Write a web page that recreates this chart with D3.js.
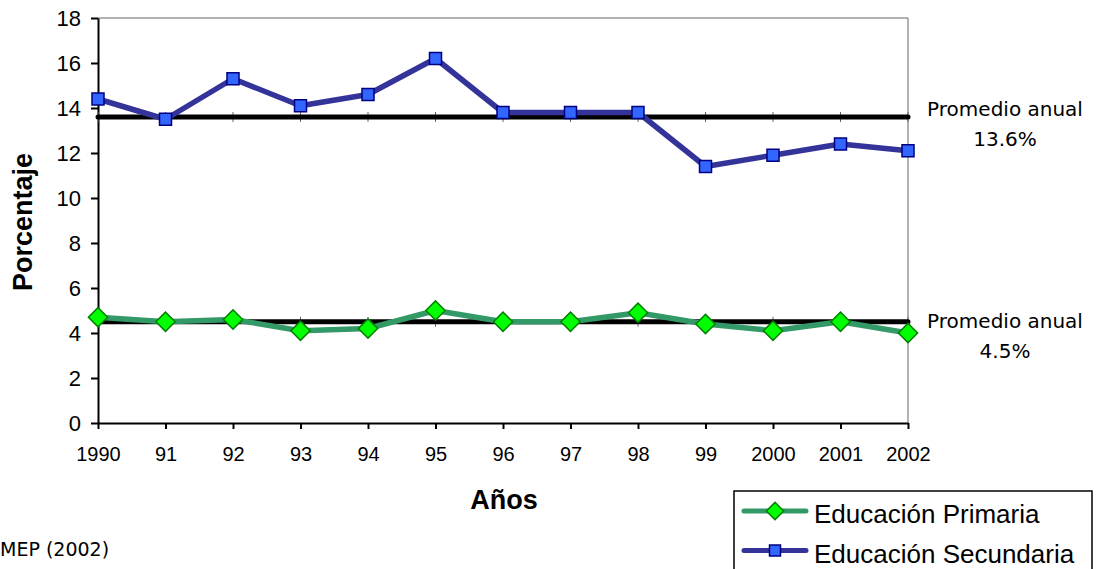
<!DOCTYPE html>
<html>
<head>
<meta charset="utf-8">
<script src="https://cdn.jsdelivr.net/npm/d3@7"></script>
<style>
  html, body { margin: 0; padding: 0; background: #fff; }
  svg { display: block; }
</style>
</head>
<body>
<svg id="chart" width="1100" height="569"></svg>
<script>
// Enrollment dropout rates by year
const years = ["1990", "91", "92", "93", "94", "95", "96", "97", "98", "99", "2000", "2001", "2002"];
const primaria = [4.7, 4.5, 4.6, 4.1, 4.2, 5.0, 4.5, 4.5, 4.9, 4.4, 4.1, 4.5, 4.0];
const secundaria = [14.4, 13.5, 15.3, 14.1, 14.6, 16.2, 13.8, 13.8, 13.8, 11.4, 11.9, 12.4, 12.1];
const promedios = [4.5, 13.6];
const yTicks = [0, 2, 4, 6, 8, 10, 12, 14, 16, 18];

const svg = d3.select("#chart");
const plotLeft = 98, plotRight = 908, plotTop = 18, plotBottom = 423;
const sansFont = "Liberation Sans, Arial, sans-serif";
const noteFont = "DejaVu Sans, Verdana, sans-serif";

const x = d3.scalePoint().domain(years).range([plotLeft, plotRight]);
const y = d3.scaleLinear().domain([0, 18]).range([plotBottom, plotTop]);

// Gray frame on top and right
svg.append("line").attr("x1", plotLeft).attr("x2", plotRight).attr("y1", plotTop).attr("y2", plotTop)
  .attr("stroke", "#999").attr("stroke-width", 1.5);
svg.append("line").attr("x1", plotRight).attr("x2", plotRight).attr("y1", plotTop).attr("y2", plotBottom)
  .attr("stroke", "#999").attr("stroke-width", 1.5);

// Axes
const yAxis = svg.append("g").attr("transform", `translate(${plotLeft},0)`)
  .call(d3.axisLeft(y).tickValues(yTicks).tickSize(7).tickPadding(10).tickSizeOuter(0));
yAxis.select(".domain").attr("stroke", "#000").attr("stroke-width", 2);
yAxis.selectAll(".tick line").attr("stroke", "#000").attr("stroke-width", 2);
yAxis.selectAll("text").attr("font-family", sansFont).attr("font-size", 22).attr("fill", "#000");

const xAxis = svg.append("g").attr("transform", `translate(0,${plotBottom})`)
  .call(d3.axisBottom(x).tickSize(6).tickPadding(18).tickSizeOuter(0));
xAxis.select(".domain").attr("stroke", "#000").attr("stroke-width", 2);
xAxis.selectAll(".tick line").attr("stroke", "#000").attr("stroke-width", 2);
xAxis.selectAll("text").attr("font-family", sansFont).attr("font-size", 20).attr("fill", "#000");

// Annual average reference lines, with small category marks across them
promedios.forEach(p => {
  svg.selectAll(null).data(years).enter().append("line")
    .attr("x1", d => x(d)).attr("x2", d => x(d))
    .attr("y1", y(p) - 5).attr("y2", y(p) + 5)
    .attr("stroke", "#666").attr("stroke-width", 1);
});
svg.selectAll("line.avg").data(promedios).enter().append("line")
  .attr("class", "avg")
  .attr("x1", plotLeft).attr("x2", plotRight)
  .attr("y1", d => y(d)).attr("y2", d => y(d))
  .attr("stroke", "#000").attr("stroke-width", 5).attr("stroke-linecap", "round");

// Series lines
const line = d3.line().x((d, i) => x(years[i])).y(d => y(d));
svg.append("path").datum(primaria).attr("d", line)
  .attr("fill", "none").attr("stroke", "#339966").attr("stroke-width", 5.5).attr("stroke-linejoin", "round");
svg.append("path").datum(secundaria).attr("d", line)
  .attr("fill", "none").attr("stroke", "#333399").attr("stroke-width", 5.5).attr("stroke-linejoin", "round");

// Markers
const diamond = d3.symbol().type(d3.symbolSquare).size(185);
svg.selectAll("path.dia").data(primaria).enter().append("path")
  .attr("class", "dia")
  .attr("d", diamond)
  .attr("transform", (d, i) => `translate(${x(years[i])},${y(d)}) rotate(45)`)
  .attr("fill", "#00ff00").attr("stroke", "#008000").attr("stroke-width", 1.5);
svg.selectAll("rect.sq").data(secundaria).enter().append("rect")
  .attr("class", "sq")
  .attr("x", (d, i) => x(years[i]) - 6).attr("y", d => y(d) - 6)
  .attr("width", 12).attr("height", 12)
  .attr("fill", "#3366ff").attr("stroke", "#000080").attr("stroke-width", 1.5);

// Average annotations (first line offset from each average line)
const noteShift = [6, -1];
promedios.forEach((p, i) => {
  const yy = y(p) + noteShift[i];
  svg.append("text").attr("x", 1005).attr("y", yy).attr("text-anchor", "middle")
    .attr("font-family", noteFont).attr("font-size", 20).text("Promedio anual");
  svg.append("text").attr("x", 1005).attr("y", yy + 30).attr("text-anchor", "middle")
    .attr("font-family", noteFont).attr("font-size", 20).text(d3.format(".1f")(p) + "%");
});

// Axis titles
svg.append("text").attr("transform", "translate(32,222) rotate(-90)").attr("text-anchor", "middle")
  .attr("font-family", sansFont).attr("font-weight", "bold")
  .attr("font-size", 27).text("Porcentaje");
svg.append("text").attr("x", 504).attr("y", 509).attr("text-anchor", "middle")
  .attr("font-family", sansFont).attr("font-weight", "bold")
  .attr("font-size", 27).text("Años");

// Source
svg.append("text").attr("x", 0).attr("y", 556)
  .attr("font-family", noteFont).attr("font-size", 19).text("MEP (2002)");

// Legend
const lg = svg.append("g");
lg.append("rect").attr("x", 734).attr("y", 491).attr("width", 358).attr("height", 90)
  .attr("fill", "#fff").attr("stroke", "#000").attr("stroke-width", 1.5);
const legendItems = [
  { name: "Educación Primaria", color: "#339966", kind: "diamond" },
  { name: "Educación Secundaria", color: "#333399", kind: "square" }
];
legendItems.forEach((it, i) => {
  const cy = 511 + i * 39.5;
  lg.append("line").attr("x1", 744).attr("x2", 806).attr("y1", cy).attr("y2", cy)
    .attr("stroke", it.color).attr("stroke-width", 5).attr("stroke-linecap", "round");
  if (it.kind === "diamond") {
    lg.append("path").attr("d", d3.symbol().type(d3.symbolSquare).size(150))
      .attr("transform", `translate(775,${cy}) rotate(45)`)
      .attr("fill", "#00ff00").attr("stroke", "#008000").attr("stroke-width", 1.5);
  } else {
    lg.append("rect").attr("x", 769.5).attr("y", cy - 5.5).attr("width", 11).attr("height", 11)
      .attr("fill", "#3366ff").attr("stroke", "#000080").attr("stroke-width", 1.5);
  }
  lg.append("text").attr("x", 814).attr("y", cy + 12)
    .attr("font-family", sansFont).attr("font-size", 26).text(it.name);
});
</script>
</body>
</html>
